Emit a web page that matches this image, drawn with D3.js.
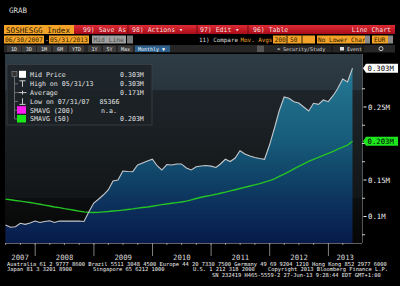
<!DOCTYPE html>
<html>
<head>
<meta charset="utf-8">
<script src="https://cdn.jsdelivr.net/npm/d3@7"></script>
<style>
html, body { margin: 0; padding: 0; background: #000; }
svg { display: block; }
text { font-family: "DejaVu Sans Mono", monospace; }
</style>
</head>
<body>
<div id="chart"></div>
<script>
// monthly observations, 06/30/2007 - 05/31/2013
const months = [
    "2007-06","2007-07","2007-08","2007-09","2007-10","2007-11","2007-12",
    "2008-01","2008-02","2008-03","2008-04","2008-05","2008-06","2008-07","2008-08","2008-09","2008-10","2008-11","2008-12",
    "2009-01","2009-02","2009-03","2009-04","2009-05","2009-06","2009-07","2009-08","2009-09","2009-10","2009-11","2009-12",
    "2010-01","2010-02","2010-03","2010-04","2010-05","2010-06","2010-07","2010-08","2010-09","2010-10","2010-11","2010-12",
    "2011-01","2011-02","2011-03","2011-04","2011-05","2011-06","2011-07","2011-08","2011-09","2011-10","2011-11","2011-12",
    "2012-01","2012-02","2012-03","2012-04","2012-05","2012-06","2012-07","2012-08","2012-09","2012-10","2012-11","2012-12",
    "2013-01","2013-02","2013-03","2013-04","2013-05"
];

const midPrice = [
    88400, 85366, 86000, 90700, 89300, 91100, 93800,
    91800, 93100, 94200, 91800, 93800, 93600, 93900, 93700, 93800, 93100, 106200, 118500,
    124000, 129400, 136300, 148600, 150000, 162300, 161600, 161400, 170500, 173300, 176000, 178400,
    169200, 163700, 171200, 170500, 171900, 172000, 166400, 163700, 168200, 169200, 169900, 169000,
    167100, 171900, 178400, 175300, 180100, 190100, 185600, 182900, 180800, 179500, 178400, 197900,
    221200, 244500, 263700, 261900, 257300, 255500, 250000, 244500, 255100, 253700, 259600, 257300,
    265800, 275300, 288400, 284200, 303000
];

const smavg50 = [
    123800, 122900, 121900, 121100, 120100, 119200, 117900,
    116700, 115600, 114400, 113100, 112100, 110800, 109700, 108500, 107400, 106400, 105700, 105500,
    105700, 106300, 106800, 107500, 108100, 108800, 109600, 110400, 111400, 112300, 113100, 114100,
    115200, 116200, 117100, 118100, 119000, 119900, 121000, 122700, 124700, 126300, 127700, 129000,
    130400, 131900, 133400, 135100, 136700, 138400, 140000, 141800, 143400, 145100, 147100, 149200,
    151500, 154800, 158200, 161600, 165100, 168600, 172200, 175500, 178200, 181000, 183600, 186400,
    189300, 192200, 194900, 197900, 203000
];

const yearLabels = ["2007", "2008", "2009", "2010", "2011", "2012", "2013"];
const yTickValues = [100000, 150000, 250000];
const yTickLabels = ["0.1M", "0.15M", "0.25M"];
const yMinorTicks = [75000, 125000, 175000, 200000, 225000, 275000];
const tagValues = [303000, 203000];
const tagLabels = ["0.303M", "0.203M"];

const legendLabels = ["Mid Price", "High on 05/31/13", "Average", "Low on 07/31/07", "SMAVG (200)", "SMAVG (50)"];
const legendValues = ["0.303M", "0.303M", "0.171M", "85366", "n.a.", "0.203M"];

const footerLines = [
    ["Australia 61 2 9777 8600 Brazil 5511 3048 4500 Europe 44 20 7330 7500 Germany 49 69 9204 1210 Hong Kong 852 2977 6000"],
    ["Japan 81 3 3201 8900", "Singapore 65 6212 1000", "U.S. 1 212 318 2000", "Copyright 2013 Bloomberg Finance L.P."],
    ["SN 232419 H465-5559-2 27-Jun-13  9:28:44 EDT  GMT+1:00"]
];

const W = 400, H = 286;
const orange = "#f3a328";

const svg = d3.select("#chart").append("svg")
    .attr("width", W)
    .attr("height", H);

svg.append("rect").attr("width", W).attr("height", H).attr("fill", "#000");

const defs = svg.append("defs");

function addText(g, x0, y0, str, size, fill, anchor) {
    return g.append("text")
        .attr("x", x0)
        .attr("y", y0)
        .attr("font-size", size)
        .attr("fill", fill)
        .attr("text-anchor", anchor || "start")
        .text(str);
}

function addBox(g, x0, y0, w, h, fill) {
    return g.append("rect")
        .attr("x", x0).attr("y", y0)
        .attr("width", w).attr("height", h)
        .attr("fill", fill);
}

// ---------------------------------------------------------
// Header / toolbar
// ---------------------------------------------------------
const head = svg.append("g");
addText(head, 9, 12.5, "GRAB", 7.5, "#dcdcdc");

// row 1
const redGrad = defs.append("linearGradient")
    .attr("id", "redGrad").attr("x1", 0).attr("x2", 0).attr("y1", 0).attr("y2", 1);
redGrad.append("stop").attr("offset", 0).attr("stop-color", "#dc2a34");
redGrad.append("stop").attr("offset", 1).attr("stop-color", "#a80c18");

addBox(head, 4, 25, 70, 9, orange);
addText(head, 6, 32.5, "SOSHESGG Index", 7.6, "#2a1800");
addBox(head, 74, 25, 321, 9, "url(#redGrad)");
[128, 197, 248].forEach(sx => {
    head.append("line").attr("x1", sx).attr("x2", sx).attr("y1", 25).attr("y2", 34)
        .attr("stroke", "#6e0a10").attr("stroke-width", 1);
});
addText(head, 83, 32.2, "99) Save As", 6.5, "#f6dede");
addText(head, 132, 32.2, "98) Actions \u25be", 6.5, "#f6dede");
addText(head, 200, 32.2, "97) Edit \u25be", 6.5, "#f6dede");
addText(head, 253, 32.2, "96) Table", 6.5, "#f6dede");
addText(head, 391, 32.2, "Line Chart", 6.5, "#f6dede", "end");

// row 2
addBox(head, 4, 35.5, 40, 8, orange);
addText(head, 5, 41.8, "06/30/2007", 6.3, "#2a1800");
addText(head, 45, 41.8, "-", 6.3, "#ddd");
addBox(head, 49, 35.5, 40, 8, orange);
addText(head, 50, 41.8, "05/31/2013", 6.3, "#2a1800");
addBox(head, 92, 35.5, 34, 8, "#a0a0a0");
addText(head, 93.5, 41.8, "Mid Line", 6.3, "#4a4a4a");
addBox(head, 127, 35.5, 6, 8, "#7a7a7a");

addText(head, 199, 41.8, "11) Compare", 5.9, "#dddddd");
addText(head, 240.5, 41.8, "Mov. Avgs", 5.9, orange);
addBox(head, 273, 35.5, 42, 8, orange);
[287, 302].forEach(sx => {
    head.append("line").attr("x1", sx).attr("x2", sx).attr("y1", 35.5).attr("y2", 43.5)
        .attr("stroke", "#000").attr("stroke-width", 0.8);
});
addText(head, 274.5, 41.8, "200", 6.3, "#2a1800");
addText(head, 290, 41.8, "50", 6.3, "#2a1800");
addBox(head, 317, 35.5, 48, 8, orange);
addText(head, 318, 41.8, "No Lower Char", 6.1, "#2a1800");
addBox(head, 365, 35.5, 5, 8, "#8a8a8a");
addBox(head, 372, 35.5, 16, 8, orange);
addText(head, 374, 41.8, "EUR", 6.3, "#2a1800");
addBox(head, 388, 35.5, 5, 8, "#8a8a8a");

// row 3
addBox(head, 4, 45, 391, 7.5, "#262626");
const btns = [["1D", 7, 14], ["3D", 22, 14], ["1M", 37, 14], ["6M", 53, 14], ["YTD", 69, 15], ["1Y", 88, 13], ["5Y", 103, 13], ["Max", 118, 15]];
btns.forEach(b => {
    addBox(head, b[1], 45.5, b[2], 6.5, "#3b3b3b");
    addText(head, b[1] + b[2] / 2, 50.6, b[0], 5, "#e6e6e6", "middle");
});
addBox(head, 135, 45.5, 35, 6.5, "#2d5f8c");
addText(head, 138, 50.6, "Monthly \u25bc", 5, "#ffffff");
addBox(head, 257, 45.5, 7, 6.5, "#555");
addText(head, 277, 50.6, "\u2248", 5.5, "#dddddd");
addText(head, 283, 50.6, "Security/Study", 5, "#dddddd");
head.append("line").attr("x1", 332).attr("x2", 332).attr("y1", 45).attr("y2", 52.5).attr("stroke", "#111");
addBox(head, 340, 47, 4, 3.5, "#dddddd");
addText(head, 347, 50.6, "Event", 5, "#dddddd");
head.append("line").attr("x1", 363).attr("x2", 363).attr("y1", 45).attr("y2", 52.5).attr("stroke", "#111");
head.append("circle").attr("cx", 381).attr("cy", 48.7).attr("r", 2).attr("fill", "none")
    .attr("stroke", "#cccccc").attr("stroke-width", 1);

// ---------------------------------------------------------
// Plot
// ---------------------------------------------------------
const plot = { left: 5, right: 362, top: 54, bottom: 243 };

const parseMonth = d3.timeParse("%Y-%m");
const monthEnd = m => d3.timeDay.offset(d3.timeMonth.offset(parseMonth(m), 1), -1);
const dates = months.map(monthEnd);

const x = d3.scaleTime()
    .domain([dates[0], dates[dates.length - 1]])
    .range([5.5, 352.5]);

const y = d3.scaleLinear()
    .domain([63700, 322600])
    .range([plot.bottom, plot.top]);

// background bands
const bgGrad = defs.append("linearGradient")
    .attr("id", "bgGrad").attr("gradientUnits", "userSpaceOnUse")
    .attr("x1", 0).attr("x2", 0).attr("y1", plot.top).attr("y2", plot.bottom);
[[0, "#2e3c46"], [0.19, "#29353d"], [0.19, "#1e252a"], [0.5, "#181d20"], [0.76, "#131618"], [0.76, "#0d0e0f"], [1, "#060606"]]
    .forEach(s => bgGrad.append("stop").attr("offset", s[0]).attr("stop-color", s[1]));

addBox(svg, plot.left, plot.top, plot.right - plot.left, plot.bottom - plot.top, "url(#bgGrad)");

// area fill gradient
const areaGrad = defs.append("linearGradient")
    .attr("id", "areaGrad").attr("gradientUnits", "userSpaceOnUse")
    .attr("x1", 0).attr("x2", 0).attr("y1", plot.top).attr("y2", plot.bottom);
[[0, "#2a86a2"], [0.2, "#206f8b"], [0.45, "#175c7a"], [0.65, "#104468"], [0.85, "#0b2a58"], [1, "#081b4a"]]
    .forEach(s => areaGrad.append("stop").attr("offset", s[0]).attr("stop-color", s[1]));

const series = dates.map((d, i) => ({ date: d, price: midPrice[i], sma: smavg50[i] }));

const area = d3.area()
    .x(d => x(d.date))
    .y0(plot.bottom)
    .y1(d => y(d.price));

svg.append("path")
    .datum(series)
    .attr("d", area)
    .attr("fill", "url(#areaGrad)");

// legend box (sits behind the lines)
const legend = svg.append("g");
legend.append("rect")
    .attr("x", 7).attr("y", 64.5)
    .attr("width", 145).attr("height", 60.5)
    .attr("fill", "#1c2226").attr("fill-opacity", 0.8)
    .attr("stroke", "#3c4348").attr("stroke-width", 0.8);

const smaLine = d3.line()
    .x(d => x(d.date))
    .y(d => y(d.sma));

svg.append("path")
    .datum(series)
    .attr("d", smaLine)
    .attr("fill", "none")
    .attr("stroke", "#25c425")
    .attr("stroke-width", 1.4);

const priceLine = d3.line()
    .x(d => x(d.date))
    .y(d => y(d.price));

svg.append("path")
    .datum(series)
    .attr("d", priceLine)
    .attr("fill", "none")
    .attr("stroke", "#c4c8cc")
    .attr("stroke-width", 1.1);

// legend rows
const rowY = i => 77.3 + i * 8.8;
// tree lines
legend.append("line").attr("x1", 14.5).attr("x2", 14.5).attr("y1", 77).attr("y2", rowY(5) - 2.3)
    .attr("stroke", "#8a8a8a").attr("stroke-width", 0.7);
d3.range(1, 6).forEach(i => {
    legend.append("line").attr("x1", 14.5).attr("x2", 18).attr("y1", rowY(i) - 2.3).attr("y2", rowY(i) - 2.3)
        .attr("stroke", "#8a8a8a").attr("stroke-width", 0.7);
});
legend.append("rect").attr("x", 12).attr("y", 71.5).attr("width", 5).attr("height", 5)
    .attr("fill", "#333").attr("stroke", "#8a8a8a").attr("stroke-width", 0.6);
legend.append("rect").attr("x", 19).attr("y", 70.8).attr("width", 7).attr("height", 7).attr("fill", "#ffffff");

// high / average / low glyphs
const g1 = rowY(1) - 2.3, g2 = rowY(2) - 2.3, g3 = rowY(3) - 2.3;
legend.append("path").attr("d", `M19.5,${g1 - 3}H25.5M22.5,${g1 - 3}V${g1 + 3}`).attr("stroke", "#ddd").attr("stroke-width", 0.9);
legend.append("path").attr("d", `M18.5,${g2}H26.5M22.5,${g2 - 2}V${g2 + 2}`).attr("stroke", "#ddd").attr("stroke-width", 0.9);
legend.append("path").attr("d", `M19.5,${g3 + 3}H25.5M22.5,${g3 - 3}V${g3 + 3}`).attr("stroke", "#ddd").attr("stroke-width", 0.9);
legend.append("rect").attr("x", 17).attr("y", rowY(4) - 6.3).attr("width", 9).attr("height", 7.5).attr("fill", "#ff1ef0");
legend.append("rect").attr("x", 17).attr("y", rowY(5) - 6.3).attr("width", 9).attr("height", 7.5).attr("fill", "#19e619");

legendLabels.forEach((lab, i) => addText(legend, 30, rowY(i), lab, 6.6, "#e4e4e4"));
const valueX = [120, 120, 120, 99.5, 101, 120];
legendValues.forEach((v, i) => addText(legend, valueX[i], rowY(i), v, 6.6, "#e4e4e4"));

// ---------------------------------------------------------
// Axes
// ---------------------------------------------------------
const axis = svg.append("g");

// right axis
axis.append("line").attr("x1", plot.right + 0.5).attr("x2", plot.right + 0.5)
    .attr("y1", plot.top).attr("y2", plot.bottom).attr("stroke", "#6a6a6a").attr("stroke-width", 0.8);
yMinorTicks.forEach(v => {
    axis.append("line").attr("x1", plot.right).attr("x2", plot.right + 3)
        .attr("y1", y(v)).attr("y2", y(v)).attr("stroke", "#e0e0e0").attr("stroke-width", 0.9);
});
yTickValues.forEach((v, i) => {
    axis.append("line").attr("x1", plot.right + 1.5).attr("x2", plot.right + 4.5)
        .attr("y1", y(v)).attr("y2", y(v)).attr("stroke", "#f0f0f0").attr("stroke-width", 1);
    addText(axis, 368, y(v) + 2.6, yTickLabels[i], 7.3, "#f0f0f0");
});

// last value tags
const tagFill = ["#ffffff", "#1ee61e"];
tagValues.forEach((v, i) => {
    const ty = y(v);
    axis.append("path")
        .attr("d", `M363,${ty} L366,${ty - 4.5} H398 V${ty + 4.5} H366 Z`)
        .attr("fill", tagFill[i]);
    addText(axis, 367.5, ty + 2.6, tagLabels[i], 7.3, "#000");
});

// bottom axis
axis.append("line").attr("x1", plot.left).attr("x2", plot.right)
    .attr("y1", plot.bottom + 0.5).attr("y2", plot.bottom + 0.5)
    .attr("stroke", "#7a7a7a").attr("stroke-width", 0.8);

const quarterTicks = d3.timeMonth.every(3).range(x.domain()[0], x.domain()[1]);
quarterTicks.forEach(d => {
    axis.append("line").attr("x1", x(d)).attr("x2", x(d))
        .attr("y1", plot.bottom).attr("y2", plot.bottom + 2)
        .attr("stroke", "#b0b0b0").attr("stroke-width", 0.8);
});

const yearStarts = d3.timeYear.range(x.domain()[0], x.domain()[1]);
yearStarts.forEach(d => {
    axis.append("line").attr("x1", x(d)).attr("x2", x(d))
        .attr("y1", plot.bottom).attr("y2", plot.bottom + 13)
        .attr("stroke", "#8c8c8c").attr("stroke-width", 0.9);
});

const bounds = [plot.left, ...yearStarts.map(d => x(d)), plot.right];
yearLabels.forEach((lab, i) => {
    addText(axis, (bounds[i] + bounds[i + 1]) / 2, 259.5, lab, 7.3, "#d8d8d8", "middle");
});

// ---------------------------------------------------------
// Footer
// ---------------------------------------------------------
const foot = svg.append("g");
addText(foot, 7, 265.6, footerLines[0][0], 5.4, "#f0f0f0");
const line2X = [7, 93, 193, 268];
footerLines[1].forEach((s, i) => addText(foot, line2X[i], 271.4, s, 5.4, "#f0f0f0"));
addText(foot, 212, 277.4, footerLines[2][0], 5.4, "#f0f0f0");
</script>
</body>
</html>
